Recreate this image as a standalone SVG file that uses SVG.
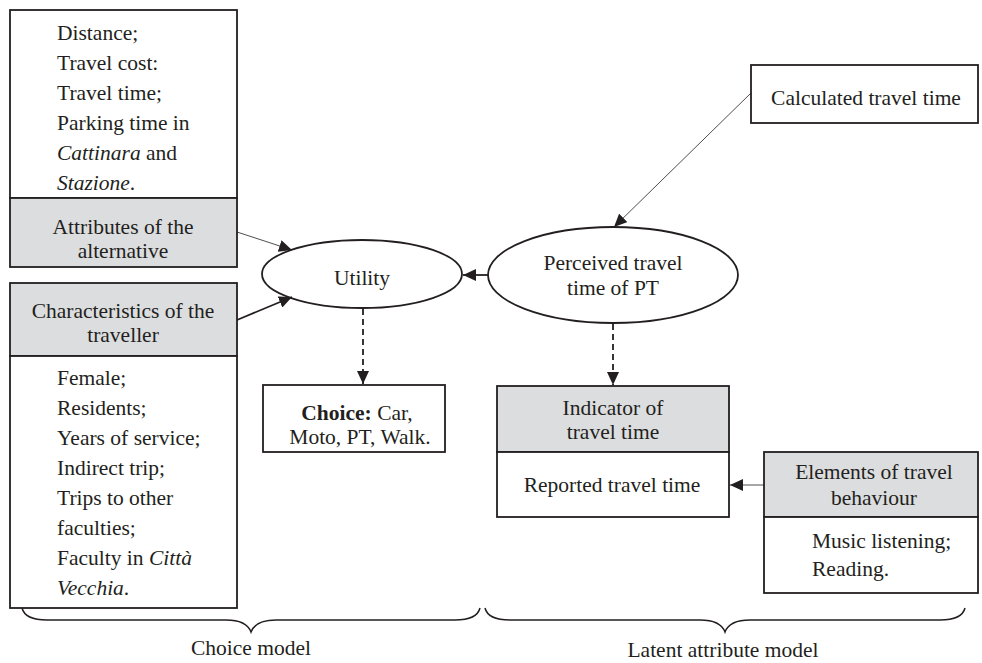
<svg xmlns="http://www.w3.org/2000/svg" width="982" height="663" viewBox="0 0 982 663">
<style>
text{font-family:"Liberation Serif","DejaVu Serif","Times New Roman",Times,serif;font-size:21.5px;fill:#231f20}
.c{text-anchor:middle}
.box{fill:#fff;stroke:#231f20;stroke-width:1.8}
.gray{fill:#dcdddf;stroke:#231f20;stroke-width:1.8}
.ell{fill:#fff;stroke:#231f20;stroke-width:1.8}
.thin{stroke:#231f20;stroke-width:0.8;fill:none}
.thick{stroke:#231f20;stroke-width:1.8;fill:none}
.dash{stroke:#231f20;stroke-width:1.8;fill:none;stroke-dasharray:6 4}
.brace{stroke:#231f20;stroke-width:1.5;fill:none}
</style>
<defs>
<marker id="ah" markerUnits="userSpaceOnUse" markerWidth="14" markerHeight="12" refX="13" refY="6" orient="auto">
<path d="M0,0 L13,6 L0,12 z" fill="#231f20"/>
</marker>
</defs>

<g id="attributes">
<rect class="box" x="10" y="10" width="227" height="188"/>
<rect class="gray" x="10" y="198" width="227" height="69"/>
<text x="57" y="40">Distance;</text>
<text x="57" y="70">Travel cost:</text>
<text x="57" y="100">Travel time;</text>
<text x="57" y="130">Parking time in</text>
<text x="57" y="160"><tspan font-style="italic">Cattinara</tspan> and</text>
<text x="57" y="190"><tspan font-style="italic">Stazione</tspan>.</text>
<text class="c" x="123" y="234">Attributes of the</text>
<text class="c" x="123" y="258">alternative</text>
</g>

<g id="characteristics">
<rect class="gray" x="10" y="283" width="227" height="73"/>
<rect class="box" x="10" y="356" width="227" height="252"/>
<text class="c" x="123" y="318">Characteristics of the</text>
<text class="c" x="123" y="342">traveller</text>
<text x="57" y="385">Female;</text>
<text x="57" y="415">Residents;</text>
<text x="57" y="445">Years of service;</text>
<text x="57" y="475">Indirect trip;</text>
<text x="57" y="505">Trips to other</text>
<text x="57" y="535">faculties;</text>
<text x="57" y="565">Faculty in <tspan font-style="italic">Città</tspan></text>
<text x="57" y="595"><tspan font-style="italic">Vecchia</tspan>.</text>
</g>

<g id="utility">
<ellipse class="ell" cx="362" cy="274" rx="100" ry="34"/>
<text class="c" x="362" y="285">Utility</text>
</g>

<g id="perceived">
<ellipse class="ell" cx="613" cy="275" rx="125" ry="48"/>
<text class="c" x="613" y="270">Perceived travel</text>
<text class="c" x="613" y="295">time of PT</text>
</g>

<g id="calculated">
<rect class="box" x="751" y="65" width="227" height="58"/>
<text class="c" x="866" y="105">Calculated travel time</text>
</g>

<g id="choice">
<rect class="box" x="263" y="385" width="182" height="67"/>
<text class="c" x="357" y="420"><tspan font-weight="bold">Choice:</tspan> Car,</text>
<text class="c" x="360" y="444">Moto, PT, Walk.</text>
</g>

<g id="indicator">
<rect class="gray" x="497" y="386" width="232" height="66"/>
<rect class="box" x="497" y="452" width="232" height="65"/>
<text class="c" x="613" y="415">Indicator of</text>
<text class="c" x="613" y="439">travel time</text>
<text class="c" x="612" y="492">Reported travel time</text>
</g>

<g id="elements">
<rect class="gray" x="764" y="452" width="214" height="65"/>
<rect class="box" x="764" y="517" width="214" height="76"/>
<text class="c" x="874" y="479">Elements of travel</text>
<text class="c" x="874" y="505">behaviour</text>
<text x="812" y="548">Music listening;</text>
<text x="812" y="576">Reading.</text>
</g>

<g id="connectors">
<line class="thin" x1="237" y1="232" x2="292" y2="250" marker-end="url(#ah)"/>
<line class="thick" x1="237" y1="320" x2="292" y2="297" marker-end="url(#ah)"/>
<line class="thick" x1="488" y1="275" x2="463" y2="275" marker-end="url(#ah)"/>
<line class="thin" x1="751" y1="93" x2="614" y2="227" marker-end="url(#ah)"/>
<line class="dash" x1="363" y1="309" x2="363" y2="384" marker-end="url(#ah)"/>
<line class="dash" x1="613" y1="324" x2="613" y2="385" marker-end="url(#ah)"/>
<line class="thin" x1="764" y1="485" x2="730" y2="485" marker-end="url(#ah)"/>
</g>

<g id="braces">
<path class="brace" d="M22,608 C24,616 32,620 47,620 L226,620 C240,620 248,624 251,632 C254,624 262,620 276,620 L455,620 C470,620 478,616 480,608"/>
<path class="brace" d="M485,608 C487,616 495,620 510,620 L700,620 C714,620 722,624 725,632 C728,624 736,620 750,620 L940,620 C955,620 963,616 965,608"/>
<text class="c" x="251" y="655">Choice model</text>
<text class="c" x="723" y="657">Latent attribute model</text>
</g>
</svg>
